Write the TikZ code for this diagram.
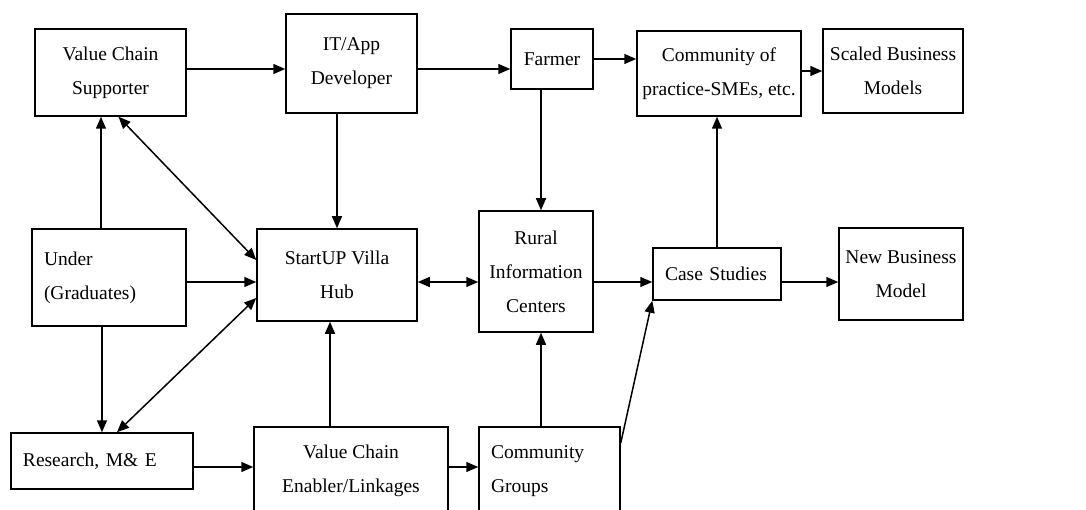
\documentclass[tikz,border=0pt]{standalone}
\usepackage{fontspec}
\setmainfont{Liberation Serif}
\usetikzlibrary{arrows.meta,calc}

\begin{document}
\begin{tikzpicture}[x=1pt,y=-1pt]
% Set styles for boxes and arrows
\tikzstyle{Box}=[draw,line width=1.5pt,rectangle,font=\fontsize{19.5}{34}\selectfont,align=center,inner sep=4pt]
\tikzstyle{LBox}=[Box,align=left,inner xsep=12pt]
\tikzstyle{Arr}=[line width=1.5pt,-{Triangle[length=12pt,width=10pt]}]
\tikzstyle{DArr}=[line width=1.5pt,{Triangle[length=12pt,width=10pt]}-{Triangle[length=12pt,width=10pt]}]
\useasboundingbox (0,0) rectangle (1086,510);
% Nodes
\foreach \x/\y/\w/\h/\t/\n in {
    110.5/72.5/151/87/{Value Chain\\Supporter}/vcs,
    351.5/63.5/131/99/{IT/App\\Developer}/itd,
    552/59/82/60/Farmer/far,
    719/73.5/164/85/{Community of\\practice-SMEs, etc.}/cop,
    893/71/140/84/{Scaled Business\\Models}/sbm,
    337/275/160/92/{StartUP Villa\\Hub}/hub,
    536/271.5/114/121/{Rural\\Information\\Centers}/ric,
    901/274/124/92/{New Business\\Model}/nbm,
    351/471/194/88/{Value Chain\\Enabler/Linkages}/vce}
  \node[Box,minimum width=\w pt,minimum height=\h pt] at (\x,\y) (\n) {\t};
\foreach \x/\y/\w/\h/\tw/\t/\n in {
    109/277.5/154/97/130/{Under\\(Graduates)}/und,
    102/461/182/56/158/{Research, M\& E}/res,
    549.5/471/141/88/117/{Community\\Groups}/cog,
    717/274/128/52/104/{Case Studies}/cas}
  \node[LBox,minimum width=\w pt,minimum height=\h pt,text width=\tw pt] at (\x,\y) (\n) {\t};
% Edges
\draw[Arr] ($(vcs.east)+(0,-3.5)$) -- ($(vcs.east -| itd.west)+(0,-3.5)$);
\draw[Arr] ($(itd.east)+(0,5.5)$) -- ($(itd.east -| far.west)+(0,5.5)$);
\draw[Arr] (far.east) -- (far.east -| cop.west);
\draw[Arr] (cop.east |- sbm.west) -- (sbm.west);
\draw[Arr] (hub.north |- itd.south) -- (hub.north);
\draw[Arr] ($(ric.north |- far.south)+(5,0)$) -- ($(ric.north)+(5,0)$);
\draw[Arr] (cas.north) -- (cas.north |- cop.south);
\draw[Arr] ($(und.north)+(-8,0)$) -- ($(und.north |- vcs.south)+(-8,0)$);
\draw[Arr] (res.north |- und.south) -- (res.north);
\draw[Arr] ($(und.east)+(0,4.5)$) -- ($(und.east -| hub.west)+(0,4.5)$);
\draw[DArr] ($(vcs.south)+(8,0)$) -- ($(hub.west)+(0,-15)$);
\draw[DArr] ($(res.north)+(15,0)$) -- ($(hub.west)+(0,23)$);
\draw[Arr] ($(res.east)+(0,6)$) -- ($(res.east -| vce.west)+(0,6)$);
\draw[Arr] ($(hub.south |- vce.north)+(-7,0)$) -- ($(hub.south)+(-7,0)$);
\draw[DArr] ($(hub.east)+(0,7)$) -- ($(hub.east -| ric.west)+(0,7)$);
\draw[Arr] ($(ric.east |- cas.west)+(0,8)$) -- ($(cas.west)+(0,8)$);
\draw[Arr] ($(cas.east)+(0,8)$) -- ($(cas.east -| nbm.west)+(0,8)$);
\draw[Arr] ($(vce.east)+(0,-4)$) -- ($(vce.east -| cog.west)+(0,-4)$);
\draw[Arr] ($(ric.south |- cog.north)+(5,0)$) -- ($(ric.south)+(5,0)$);
\draw[Arr] ($(cog.east)+(0,-28)$) -- (cas.south west);
\end{tikzpicture}
\end{document}
